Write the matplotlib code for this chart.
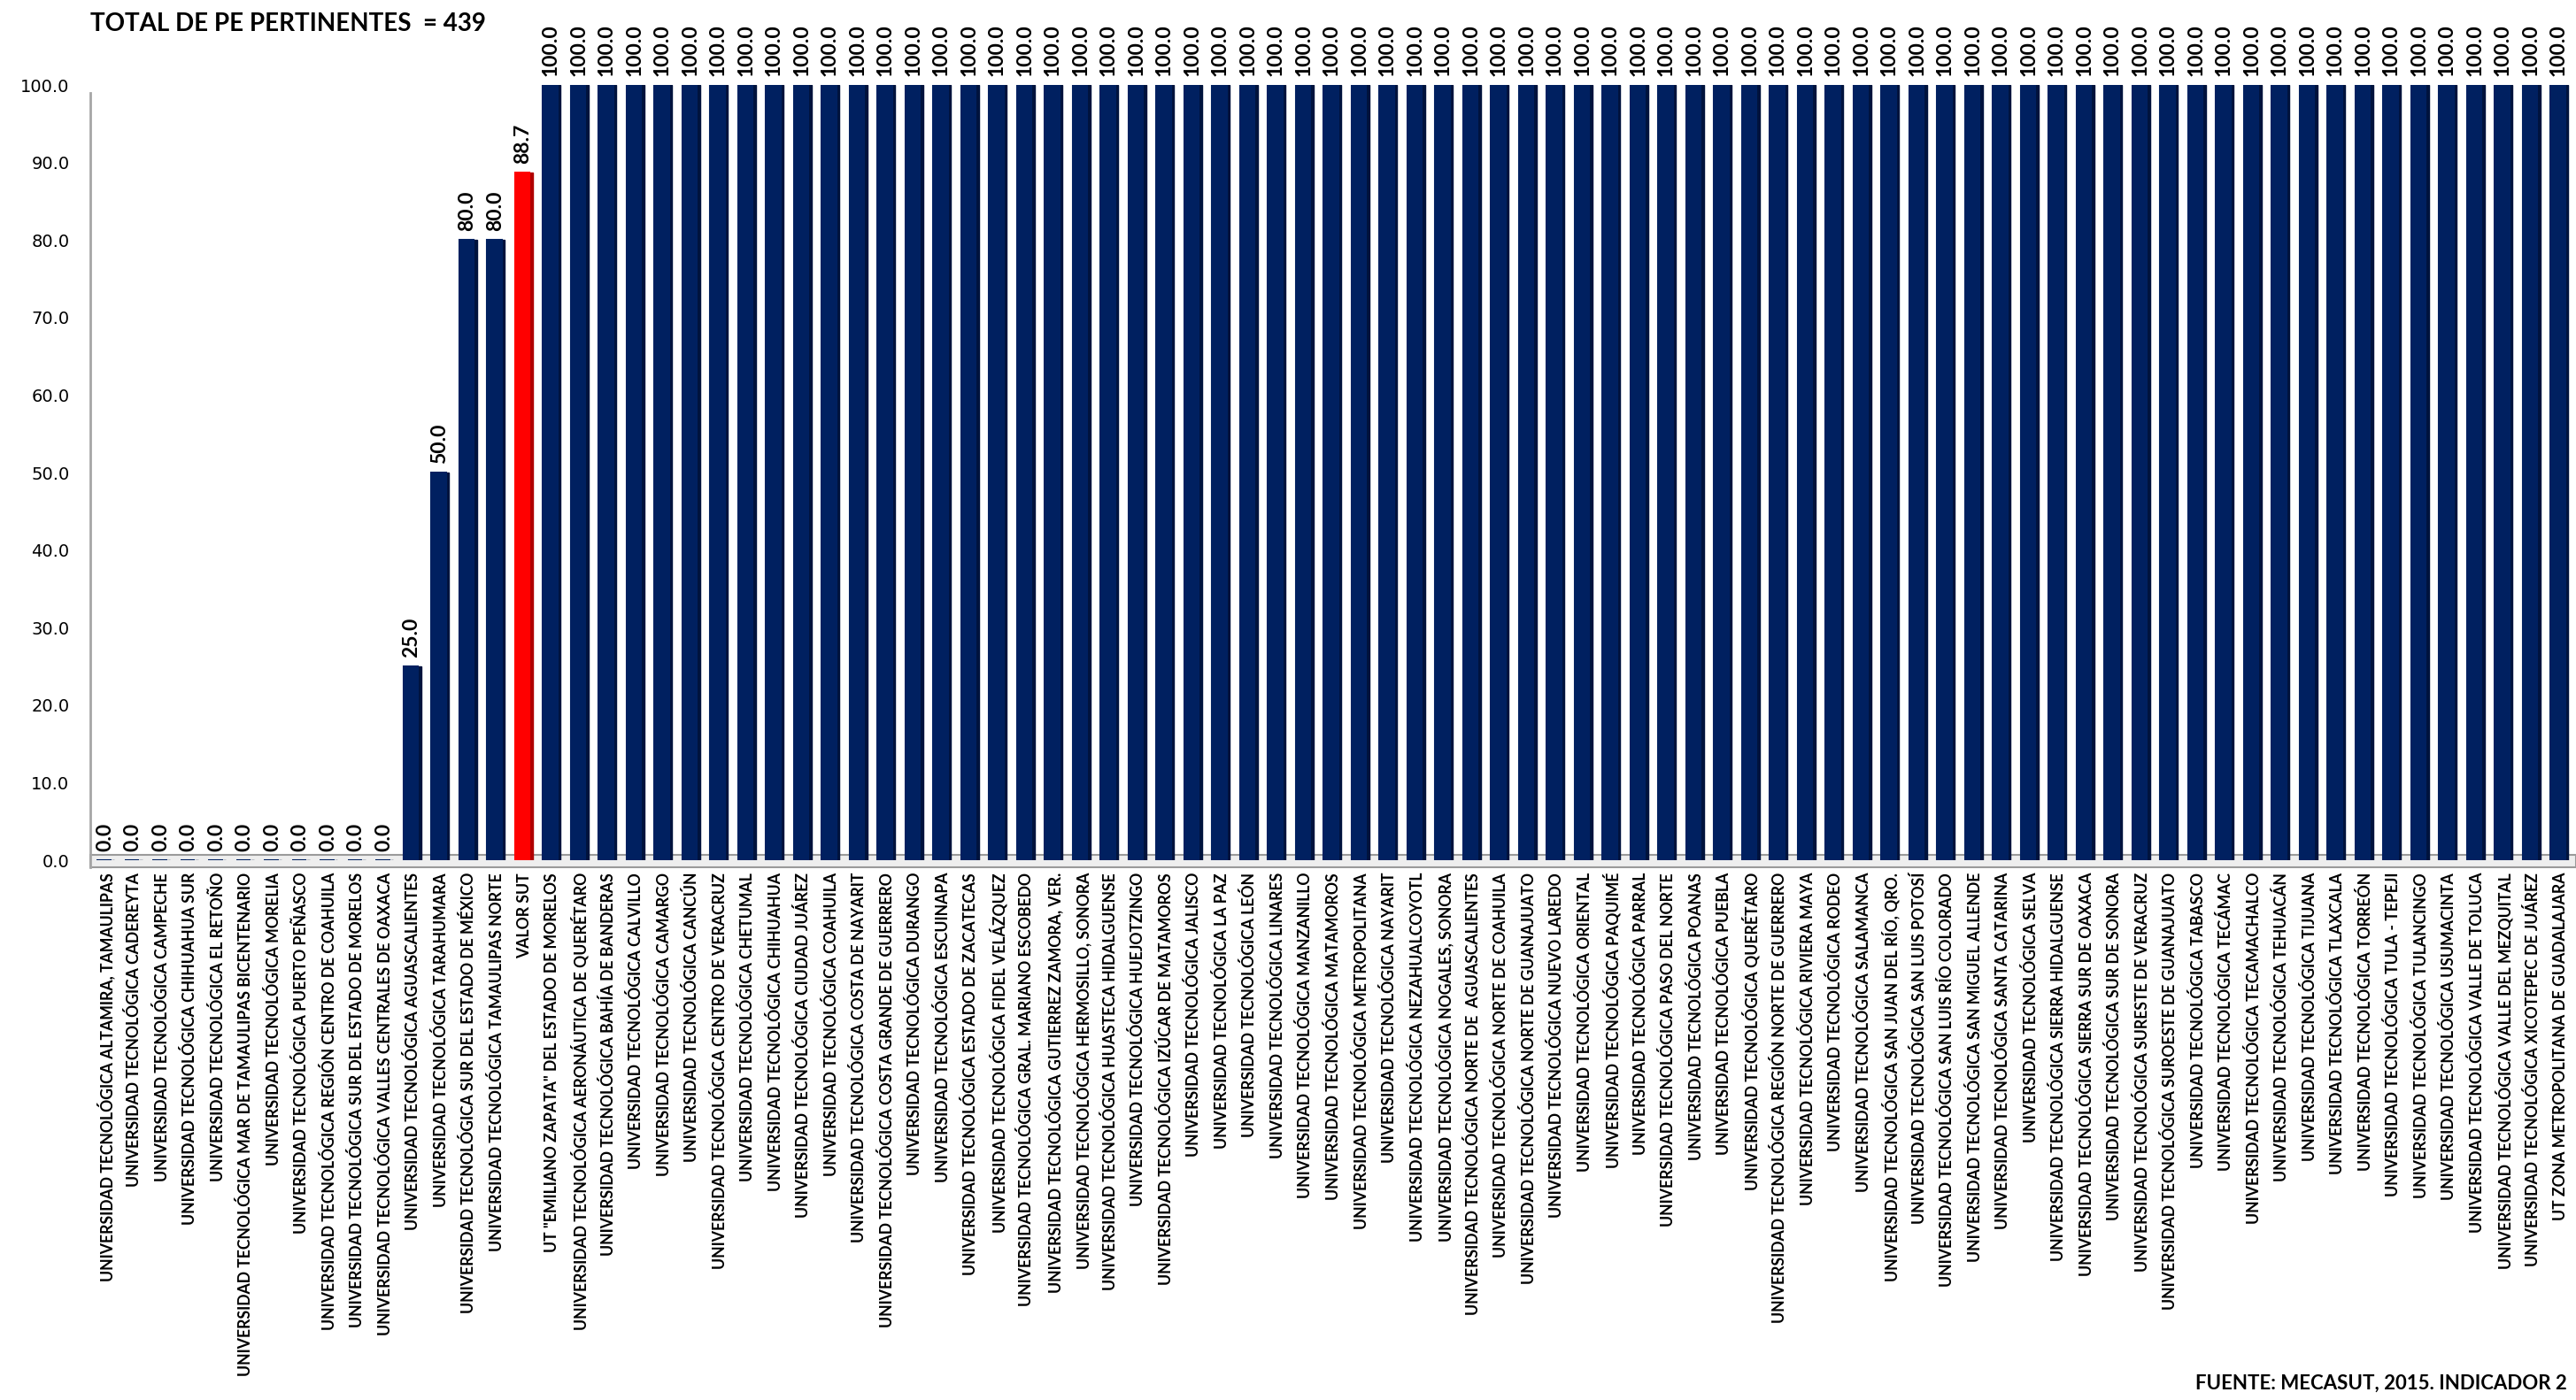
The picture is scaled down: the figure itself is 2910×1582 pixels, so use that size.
import numpy as np
import matplotlib
matplotlib.use('Agg')
import matplotlib.pyplot as plt

# ---- datos ----
universidades = [
    'UNIVERSIDAD TECNOLÓGICA ALTAMIRA, TAMAULIPAS',
    'UNIVERSIDAD TECNOLÓGICA CADEREYTA',
    'UNIVERSIDAD TECNOLÓGICA CAMPECHE',
    'UNIVERSIDAD TECNOLÓGICA CHIHUAHUA SUR',
    'UNIVERSIDAD TECNOLÓGICA EL RETOÑO',
    'UNIVERSIDAD TECNOLÓGICA MAR DE TAMAULIPAS BICENTENARIO',
    'UNIVERSIDAD TECNOLÓGICA MORELIA',
    'UNIVERSIDAD TECNOLÓGICA PUERTO PEÑASCO',
    'UNIVERSIDAD TECNOLÓGICA REGIÓN CENTRO DE COAHUILA',
    'UNIVERSIDAD TECNOLÓGICA SUR DEL ESTADO DE MORELOS',
    'UNIVERSIDAD TECNOLÓGICA VALLES CENTRALES DE OAXACA',
    'UNIVERSIDAD TECNOLÓGICA AGUASCALIENTES',
    'UNIVERSIDAD TECNOLÓGICA TARAHUMARA',
    'UNIVERSIDAD TECNOLÓGICA SUR DEL ESTADO DE MÉXICO',
    'UNIVERSIDAD TECNOLÓGICA TAMAULIPAS NORTE',
    'VALOR SUT',
    'UT "EMILIANO ZAPATA" DEL ESTADO DE MORELOS',
    'UNIVERSIDAD TECNOLÓGICA AERONÁUTICA DE QUERÉTARO',
    'UNIVERSIDAD TECNOLÓGICA BAHÍA DE BANDERAS',
    'UNIVERSIDAD TECNOLÓGICA CALVILLO',
    'UNIVERSIDAD TECNOLÓGICA CAMARGO',
    'UNIVERSIDAD TECNOLÓGICA CANCÚN',
    'UNIVERSIDAD TECNOLÓGICA CENTRO DE VERACRUZ',
    'UNIVERSIDAD TECNOLÓGICA CHETUMAL',
    'UNIVERSIDAD TECNOLÓGICA CHIHUAHUA',
    'UNIVERSIDAD TECNOLÓGICA CIUDAD JUÁREZ',
    'UNIVERSIDAD TECNOLÓGICA COAHUILA',
    'UNIVERSIDAD TECNOLÓGICA COSTA DE NAYARIT',
    'UNIVERSIDAD TECNOLÓGICA COSTA GRANDE DE GUERRERO',
    'UNIVERSIDAD TECNOLÓGICA DURANGO',
    'UNIVERSIDAD TECNOLÓGICA ESCUINAPA',
    'UNIVERSIDAD TECNOLÓGICA ESTADO DE ZACATECAS',
    'UNIVERSIDAD TECNOLÓGICA FIDEL VELÁZQUEZ',
    'UNIVERSIDAD TECNOLÓGICA GRAL. MARIANO ESCOBEDO',
    'UNIVERSIDAD TECNOLÓGICA GUTIERREZ ZAMORA, VER.',
    'UNIVERSIDAD TECNOLÓGICA HERMOSILLO, SONORA',
    'UNIVERSIDAD TECNOLÓGICA HUASTECA HIDALGUENSE',
    'UNIVERSIDAD TECNOLÓGICA HUEJOTZINGO',
    'UNIVERSIDAD TECNOLÓGICA IZÚCAR DE MATAMOROS',
    'UNIVERSIDAD TECNOLÓGICA JALISCO',
    'UNIVERSIDAD TECNOLÓGICA LA PAZ',
    'UNIVERSIDAD TECNOLÓGICA LEÓN',
    'UNIVERSIDAD TECNOLÓGICA LINARES',
    'UNIVERSIDAD TECNOLÓGICA MANZANILLO',
    'UNIVERSIDAD TECNOLÓGICA MATAMOROS',
    'UNIVERSIDAD TECNOLÓGICA METROPOLITANA',
    'UNIVERSIDAD TECNOLÓGICA NAYARIT',
    'UNIVERSIDAD TECNOLÓGICA NEZAHUALCOYOTL',
    'UNIVERSIDAD TECNOLÓGICA NOGALES, SONORA',
    'UNIVERSIDAD TECNOLÓGICA NORTE DE  AGUASCALIENTES',
    'UNIVERSIDAD TECNOLÓGICA NORTE DE COAHUILA',
    'UNIVERSIDAD TECNOLÓGICA NORTE DE GUANAJUATO',
    'UNIVERSIDAD TECNOLÓGICA NUEVO LAREDO',
    'UNIVERSIDAD TECNOLÓGICA ORIENTAL',
    'UNIVERSIDAD TECNOLÓGICA PAQUIMÉ',
    'UNIVERSIDAD TECNOLÓGICA PARRAL',
    'UNIVERSIDAD TECNOLÓGICA PASO DEL NORTE',
    'UNIVERSIDAD TECNOLÓGICA POANAS',
    'UNIVERSIDAD TECNOLÓGICA PUEBLA',
    'UNIVERSIDAD TECNOLÓGICA QUERÉTARO',
    'UNIVERSIDAD TECNOLÓGICA REGIÓN NORTE DE GUERRERO',
    'UNIVERSIDAD TECNOLÓGICA RIVIERA MAYA',
    'UNIVERSIDAD TECNOLÓGICA RODEO',
    'UNIVERSIDAD TECNOLÓGICA SALAMANCA',
    'UNIVERSIDAD TECNOLÓGICA SAN JUAN DEL RÍO, QRO.',
    'UNIVERSIDAD TECNOLÓGICA SAN LUIS POTOSÍ',
    'UNIVERSIDAD TECNOLÓGICA SAN LUIS RÍO COLORADO',
    'UNIVERSIDAD TECNOLÓGICA SAN MIGUEL ALLENDE',
    'UNIVERSIDAD TECNOLÓGICA SANTA CATARINA',
    'UNIVERSIDAD TECNOLÓGICA SELVA',
    'UNIVERSIDAD TECNOLÓGICA SIERRA HIDALGUENSE',
    'UNIVERSIDAD TECNOLÓGICA SIERRA SUR DE OAXACA',
    'UNIVERSIDAD TECNOLÓGICA SUR DE SONORA',
    'UNIVERSIDAD TECNOLÓGICA SURESTE DE VERACRUZ',
    'UNIVERSIDAD TECNOLÓGICA SUROESTE DE GUANAJUATO',
    'UNIVERSIDAD TECNOLÓGICA TABASCO',
    'UNIVERSIDAD TECNOLÓGICA TECÁMAC',
    'UNIVERSIDAD TECNOLÓGICA TECAMACHALCO',
    'UNIVERSIDAD TECNOLÓGICA TEHUACÁN',
    'UNIVERSIDAD TECNOLÓGICA TIJUANA',
    'UNIVERSIDAD TECNOLÓGICA TLAXCALA',
    'UNIVERSIDAD TECNOLÓGICA TORREÓN',
    'UNIVERSIDAD TECNOLÓGICA TULA - TEPEJI',
    'UNIVERSIDAD TECNOLÓGICA TULANCINGO',
    'UNIVERSIDAD TECNOLÓGICA USUMACINTA',
    'UNIVERSIDAD TECNOLÓGICA VALLE DE TOLUCA',
    'UNIVERSIDAD TECNOLÓGICA VALLE DEL MEZQUITAL',
    'UNIVERSIDAD TECNOLÓGICA XICOTEPEC DE JUÁREZ',
    'UT ZONA METROPOLITANA DE GUADALAJARA',
]
valores_bajos = [0.0] * 11 + [25.0, 50.0, 80.0, 80.0, 88.7]
valores = valores_bajos + [100.0] * (len(universidades) - len(valores_bajos))
referencia = 'VALOR SUT'

titulo = 'TOTAL DE PE PERTINENTES  = 439'
fuente = 'FUENTE: MECASUT, 2015. INDICADOR 2'
y_ticks = [0, 10, 20, 30, 40, 50, 60, 70, 80, 90, 100]

AZUL, AZUL_LADO = '#002060', '#00133d'
ROJO, ROJO_LADO = '#ff0000', '#b00000'
FONT = 'Lato'

W, H = 2910, 1582
fig = plt.figure(figsize=(W / 100, H / 100), dpi=100)
ax = fig.add_axes([102 / W, (H - 972) / H, (W - 102) / W, (972 - 96) / H])

x = np.arange(len(universidades))
vals = np.array(valores)
es_ref = np.array([u == referencia for u in universidades])
cara = [ROJO if r else AZUL for r in es_ref]
lado = [ROJO_LADO if r else AZUL_LADO for r in es_ref]

# piso gris tipo 3D
ax.axhspan(-0.9, 0.7, facecolor='#eeeeee', edgecolor='#9a9a9a', lw=1.5,
           zorder=1, clip_on=False)

# columnas: cara frontal + lateral oscura
ax.bar(x - 0.08, vals, width=0.52, color=cara, edgecolor=cara, lw=1.5, zorder=3)
ax.bar(x + 0.24, vals, width=0.12, color=lado, edgecolor=lado, lw=1.0, zorder=2)

for xi, v in zip(x, vals):
    ax.annotate(f'{v:.1f}', (xi - 0.05, v), xytext=(0, 7), textcoords='offset points',
                rotation=90, ha='center', va='bottom', fontsize=16.5,
                fontweight='bold', family=FONT, annotation_clip=False)

ax.set_xlim(-0.57, len(universidades) - 1 + 0.57)
ax.set_ylim(0, 100)
ax.set_yticks(y_ticks)
ax.set_yticklabels([f'{t:.1f}' for t in y_ticks], fontsize=14, family='DejaVu Sans')
ax.tick_params(axis='y', length=0, pad=17)
ax.set_xticks(x)
ax.set_xticklabels(universidades, rotation=90, fontsize=12.7, fontweight='bold',
                   family=FONT)
ax.tick_params(axis='x', length=0, pad=10)

for s in ['top', 'right', 'bottom']:
    ax.spines[s].set_visible(False)
ax.spines['left'].set_color('#a6a6a6')
ax.spines['left'].set_linewidth(2)
ax.spines['left'].set_bounds(-0.9, 99)

fig.text(102 / W, 1 - 27 / H, titulo, fontsize=20, fontweight='bold', family=FONT,
         ha='left', va='center')
fig.text(2480 / W, 1 - 1563 / H, fuente, fontsize=16, fontweight='bold', family=FONT,
         ha='left', va='center')

fig.savefig('out.png', dpi=100)
